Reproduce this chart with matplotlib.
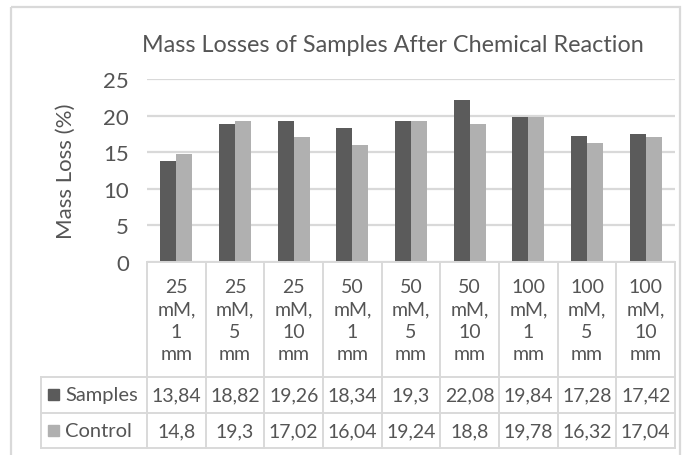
import matplotlib.pyplot as plt
import matplotlib.transforms as mtransforms
from matplotlib.patches import Rectangle

plt.rcParams['font.family'] = ['Lato', 'DejaVu Sans']

# data
categories = ["25\nmM,\n1\nmm", "25\nmM,\n5\nmm", "25\nmM,\n10\nmm",
              "50\nmM,\n1\nmm", "50\nmM,\n5\nmm", "50\nmM,\n10\nmm",
              "100\nmM,\n1\nmm", "100\nmM,\n5\nmm", "100\nmM,\n10\nmm"]
samples = [13.84, 18.82, 19.26, 18.34, 19.3, 22.08, 19.84, 17.28, 17.42]
control = [14.8, 19.3, 17.02, 16.04, 19.24, 18.8, 19.78, 16.32, 17.04]
series_names = ["Samples", "Control"]
yticks = [0, 5, 10, 15, 20, 25]

dark = '#5b5b5b'
light = '#b0b0b0'
grid_c = '#d9d9d9'
txt_c = '#555555'

W, H = 685, 456
fig = plt.figure(figsize=(W / 100, H / 100), dpi=100)

# pixel canvas for the frame and data table
bg = fig.add_axes([0, 0, 1, 1])
bg.set_xlim(0, W)
bg.set_ylim(H, 0)
bg.axis('off')

left, right, top, bottom = 147, 675, 80, 263
ax = fig.add_axes([left / W, 1 - bottom / H, (right - left) / W, (bottom - top) / H])
ax.set_facecolor('none')

n = len(categories)
x = [i + 0.5 for i in range(n)]
bw = 0.275
ax.bar([v - bw / 2 for v in x], samples, bw, color=dark, zorder=3)
ax.bar([v + bw / 2 for v in x], control, bw, color=light, zorder=3)
ax.set_xlim(0, n)
ax.set_ylim(0, 25)
ax.set_yticks(yticks)
ax.set_xticks([])
ax.yaxis.grid(True, color=grid_c, linewidth=1.6)
ax.set_axisbelow(True)
for s in ax.spines.values():
    s.set_visible(False)
ax.tick_params(axis='y', length=0, pad=13, labelsize=16, labelcolor=txt_c)
ax.set_ylabel('Mass Loss (%)', fontsize=16, color=txt_c, labelpad=20)

fig.text(393 / W, 1 - 45 / H, 'Mass Losses of Samples After Chemical Reaction',
         ha='center', va='center', fontsize=16.8, color=txt_c)

# data table under the axis
tr = mtransforms.blended_transform_factory(ax.transData, bg.transData)
row_y = [263, 378, 414, 449]
lab_left = 41
lw = 1.4
for i in range(n + 1):
    bg.plot([i, i], [row_y[0], row_y[-1]], color=grid_c, lw=lw, transform=tr,
            clip_on=False)
ax.plot([0, n], [0, 0], color=grid_c, lw=lw, clip_on=False, zorder=4)
for yy in row_y[1:]:
    bg.plot([lab_left, right], [yy, yy], color=grid_c, lw=lw, clip_on=False)
bg.plot([lab_left, lab_left], [row_y[1], row_y[-1]], color=grid_c, lw=lw)

for i, lab in enumerate(categories):
    bg.text(x[i], 321, lab, transform=tr, ha='center', va='center',
            fontsize=14, color=txt_c, linespacing=1.38)

rows = [samples, control]
cols = [dark, light]
for r, (name, vals, c) in enumerate(zip(series_names, rows, cols)):
    yc = (row_y[r + 1] + row_y[r + 2]) / 2
    bg.add_patch(Rectangle((48, yc - 5.5), 11, 11, color=c))
    bg.text(65, yc, name, ha='left', va='center', fontsize=14.5, color=txt_c)
    for i, v in enumerate(vals):
        bg.text(x[i], yc, f"{v:g}".replace('.', ','), transform=tr,
                ha='center', va='center', fontsize=14, color=txt_c)

# chart frame
bg.add_patch(Rectangle((11, 8), 669, 470, fill=False, edgecolor=grid_c,
                       lw=1.6, clip_on=False))

fig.savefig('out.png', dpi=100)
